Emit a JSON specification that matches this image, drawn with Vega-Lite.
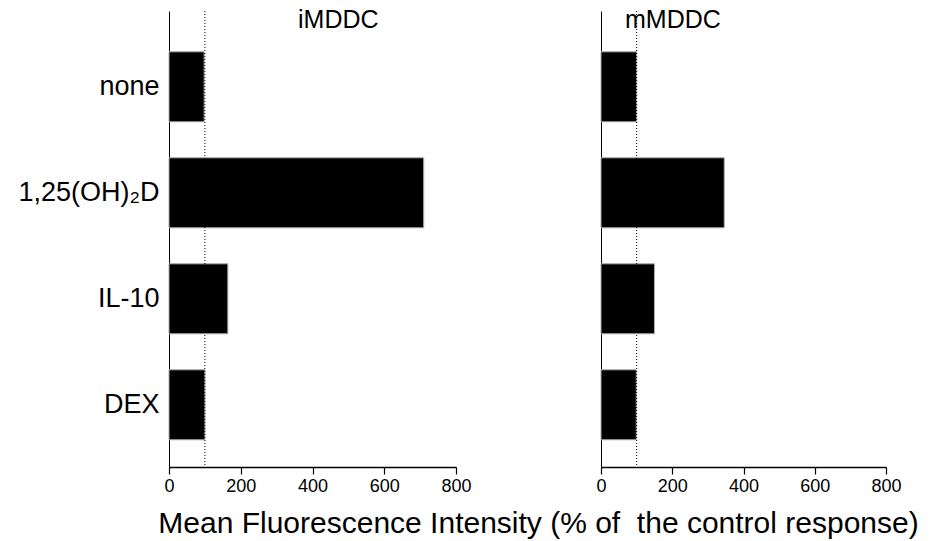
{
  "$schema": "https://vega.github.io/schema/vega-lite/v6.json",
  "background": "white",
  "padding": {"left": 17, "top": 7, "right": 0, "bottom": 0},
  "data": {"values": [
    {"panel": "iMDDC", "treatment": "none", "value": 98},
    {"panel": "iMDDC", "treatment": "1,25(OH)₂D", "value": 710},
    {"panel": "iMDDC", "treatment": "IL-10", "value": 164},
    {"panel": "iMDDC", "treatment": "DEX", "value": 100},
    {"panel": "mMDDC", "treatment": "none", "value": 100},
    {"panel": "mMDDC", "treatment": "1,25(OH)₂D", "value": 346},
    {"panel": "mMDDC", "treatment": "IL-10", "value": 150},
    {"panel": "mMDDC", "treatment": "DEX", "value": 99}
  ]},
  "title": {
    "text": "Mean Fluorescence Intensity (% of\u00a0 the control response)",
    "orient": "bottom",
    "anchor": "middle",
    "font": "Liberation Sans, Arial",
    "fontSize": 30,
    "fontWeight": "normal",
    "color": "black",
    "offset": 14,
    "dx": 79
  },
  "config": {
    "view": {"stroke": null},
    "font": "Liberation Sans, Arial",
    "axis": {"domainColor": "black", "tickColor": "black", "labelColor": "black", "grid": false, "labelFont": "Liberation Sans, Arial"}
  },
  "spacing": 123,
  "hconcat": [
    {
      "width": 287,
      "height": 456,
      "title": {"text": "iMDDC", "anchor": "start", "frame": "group", "dx": 129, "offset": -22, "fontSize": 25, "fontWeight": "normal", "color": "black", "font": "Liberation Sans, Arial"},
      "layer": [
        {
          "transform": [{"filter": "datum.panel === 'iMDDC'"}],
          "mark": {"type": "bar", "color": "black", "stroke": "#aaaaaa", "strokeWidth": 1},
          "encoding": {
            "y": {"field": "treatment", "type": "nominal", "sort": ["none", "1,25(OH)₂D", "IL-10", "DEX"],
              "scale": {"paddingInner": 0.34, "paddingOuter": 0.321, "align": 0.6},
              "axis": {"title": null, "ticks": false, "labelFontSize": 27, "labelPadding": 10, "domainWidth": 1}},
            "x": {"field": "value", "type": "quantitative", "scale": {"domain": [0, 800], "nice": false},
              "axis": {"title": null, "values": [0, 100, 200, 300, 400, 500, 600, 700, 800],
                "labelExpr": "datum.value % 200 === 0 ? datum.label : ''", "labelFlush": false, "labelOverlap": false,
                "labelFontSize": 18, "tickSize": 7, "domainWidth": 1.5, "tickWidth": 1.2, "labelPadding": 3}}
          }
        },
        {
          "data": {"values": [{}]},
          "mark": {"type": "rule", "color": "black", "strokeDash": [1, 2], "strokeWidth": 1},
          "encoding": {"x": {"datum": 100}}
        }
      ]
    },
    {
      "width": 285,
      "height": 456,
      "title": {"text": "mMDDC", "anchor": "start", "frame": "group", "dx": 24, "offset": -22, "fontSize": 25, "fontWeight": "normal", "color": "black", "font": "Liberation Sans, Arial"},
      "layer": [
        {
          "transform": [{"filter": "datum.panel === 'mMDDC'"}],
          "mark": {"type": "bar", "color": "black", "stroke": "#aaaaaa", "strokeWidth": 1},
          "encoding": {
            "y": {"field": "treatment", "type": "nominal", "sort": ["none", "1,25(OH)₂D", "IL-10", "DEX"],
              "scale": {"paddingInner": 0.34, "paddingOuter": 0.321, "align": 0.6},
              "axis": {"title": null, "ticks": false, "labels": false, "domainWidth": 1}},
            "x": {"field": "value", "type": "quantitative", "scale": {"domain": [0, 800], "nice": false},
              "axis": {"title": null, "values": [0, 100, 200, 300, 400, 500, 600, 700, 800],
                "labelExpr": "datum.value % 200 === 0 ? datum.label : ''", "labelFlush": false, "labelOverlap": false,
                "labelFontSize": 18, "tickSize": 7, "domainWidth": 1.5, "tickWidth": 1.2, "labelPadding": 3}}
          }
        },
        {
          "data": {"values": [{}]},
          "mark": {"type": "rule", "color": "black", "strokeDash": [1, 2], "strokeWidth": 1},
          "encoding": {"x": {"datum": 100}}
        }
      ]
    }
  ]
}
